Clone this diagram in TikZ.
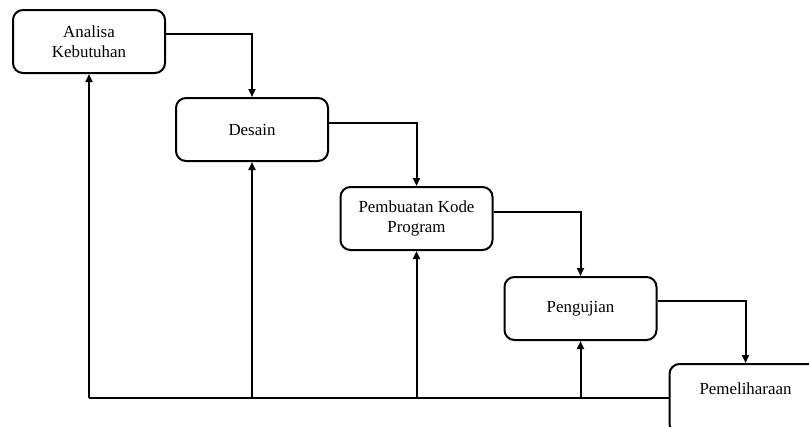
\documentclass[tikz,border=0pt]{standalone}
\usepackage{fontspec}
\setmainfont{Liberation Serif}
\usetikzlibrary{arrows.meta}
\begin{document}
\begin{tikzpicture}[x=1pt,y=-1pt,
  phase/.style={draw,line width=2pt,rounded corners=10pt,minimum width=152pt,minimum height=63pt,inner sep=2pt,align=center,
    font=\fontsize{16.9}{20.5}\selectfont},
  conn/.style={line width=2pt,-{Triangle[length=8pt,width=7pt]}}]
\clip (0,0) rectangle (809,426);
\node[phase] (a) at (89,41.5) {Analisa\\Kebutuhan};
\node[phase] (b) at (252,129.5) {Desain};
\node[phase] (c) at (416.5,218.5) {Pembuatan Kode\\Program};
\node[phase] (d) at (580.5,308.5) {Pengujian};
\node[phase,minimum height=70pt,text depth=20pt] (e) at (745.5,399) {Pemeliharaan};
\coordinate (base) at (89,398);
\draw[conn] ([yshift=-25pt]a.north east) -| (b.north);
\draw[conn] ([yshift=-26pt]b.north east) -| (c.north);
\draw[conn] ([yshift=-26pt]c.north east) -| (d.north);
\draw[conn] ([yshift=-25pt]d.north east) -| (e.north);
\draw[line width=2pt] (base) -- (base -| e.west);
\draw[conn] (base -| a.south) -- (a.south);
\draw[conn] (base -| b.south) -- (b.south);
\draw[conn] (base -| c.south) -- (c.south);
\draw[conn] (base -| d.south) -- (d.south);
\end{tikzpicture}
\end{document}
